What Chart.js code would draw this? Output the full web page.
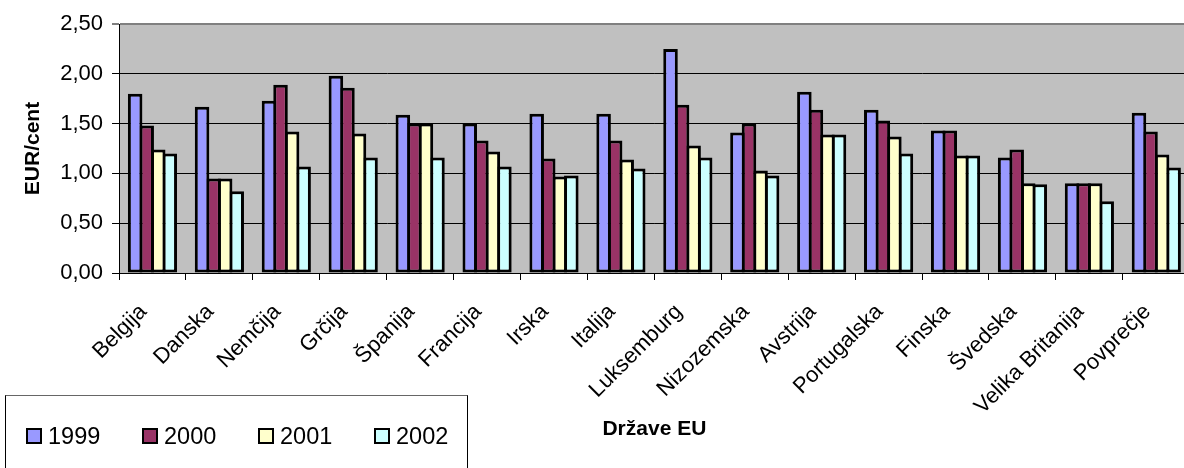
<!DOCTYPE html>
<html>
<head>
<meta charset="utf-8">
<script src="https://cdn.jsdelivr.net/npm/chart.js@4/dist/chart.umd.min.js"></script>
<style>
  html, body { margin: 0; padding: 0; background: #fff; overflow: hidden; }
  #wrap { position: relative; width: 1194px; height: 468px; }
  #legend {
    position: absolute; left: 5px; top: 395px; width: 463px; height: 90px;
    border-left: 1px solid #000; border-right: 1px solid #000; border-top: 1px solid #666;
    font-family: "Liberation Sans", Arial, sans-serif; font-size: 23.5px; color: #000;
    box-sizing: border-box;
  }
  .item { position: absolute; top: 27px; height: 26px; line-height: 26px; white-space: nowrap; }
  .sw { display: inline-block; width: 16px; height: 16px; box-sizing: border-box;
        border: 2px solid #000; vertical-align: middle; margin-right: 6px; position: relative; top: -2px; }
</style>
</head>
<body>
<div id="wrap">
  <canvas id="c"></canvas>
  <div id="legend"></div>
</div>
<script>
// Cena v EUR/cent po državah EU, 1999–2002
const categories = ['Belgija', 'Danska', 'Nemčija', 'Grčija', 'Španija', 'Francija', 'Irska', 'Italija',
  'Luksemburg', 'Nizozemska', 'Avstrija', 'Portugalska', 'Finska', 'Švedska', 'Velika Britanija', 'Povprečje'];
const years = ['1999', '2000', '2001', '2002'];
const v1999 = [1.80, 1.67, 1.73, 1.98, 1.59, 1.50, 1.60, 1.60, 2.25, 1.41, 1.82, 1.64, 1.43, 1.16, 0.90, 1.61];
const v2000 = [1.48, 0.95, 1.89, 1.86, 1.50, 1.33, 1.15, 1.33, 1.69, 1.50, 1.64, 1.53, 1.43, 1.24, 0.90, 1.42];
const v2001 = [1.24, 0.95, 1.42, 1.40, 1.50, 1.22, 0.97, 1.14, 1.28, 1.03, 1.39, 1.37, 1.18, 0.90, 0.90, 1.19];
const v2002 = [1.20, 0.82, 1.07, 1.16, 1.16, 1.07, 0.98, 1.05, 1.16, 0.98, 1.39, 1.20, 1.18, 0.89, 0.72, 1.06];
const yTicks = [0, 0.5, 1.0, 1.5, 2.0, 2.5];

const colors = ['#9999FF', '#993366', '#FFFFCC', '#CCFFFF'];
const series = [v1999, v2000, v2001, v2002];
const FONT = '"Liberation Sans", Arial, sans-serif';

const plotBackground = {
  id: 'plotBackground',
  beforeDraw(chart) {
    const { ctx, chartArea: a } = chart;
    ctx.save();
    ctx.fillStyle = '#C0C0C0';
    ctx.fillRect(a.left, a.top, a.right - a.left, a.bottom - a.top);
    ctx.restore();
  }
};

const chart = new Chart(document.getElementById('c'), {
  type: 'bar',
  data: {
    labels: categories,
    datasets: series.map((d, i) => ({
      label: years[i],
      data: d,
      backgroundColor: colors[i],
      borderColor: '#000',
      borderWidth: 3,
      borderSkipped: false,
      inflateAmount: 0,
      categoryPercentage: 0.69,
      barPercentage: 1.26
    }))
  },
  options: {
    responsive: true,
    maintainAspectRatio: false,
    animation: false,
    devicePixelRatio: 1,
    layout: { padding: { top: 24, right: 1, bottom: 0, left: 0 } },
    plugins: { legend: { display: false }, tooltip: { enabled: false } },
    scales: {
      x: {
        type: 'category',
        offset: true,
        grid: { offset: true, drawOnChartArea: false, drawTicks: true, tickLength: 7, color: '#000' },
        border: { color: '#000', width: 1 },
        ticks: {
          autoSkip: false, maxRotation: 45, minRotation: 45, padding: 19, labelOffset: -9,
          color: '#000', font: { family: FONT, size: 22 }
        },
        title: {
          display: true, text: 'Države EU', color: '#000',
          font: { family: FONT, size: 21, weight: 'bold' },
          padding: { top: 0, bottom: 26 }
        },
        afterFit(s) { s.height = 195; }
      },
      y: {
        min: 0, max: 2.5,
        afterBuildTicks(s) { s.ticks = yTicks.map(v => ({ value: v })); },
        grid: {
          color: c => (c.tick && c.tick.value === 2.5) ? '#808080' : '#000',
          lineWidth: c => (c.tick && c.tick.value === 2.5) ? 2 : 1,
          tickColor: '#000', tickWidth: 1, tickLength: 7, drawTicks: true
        },
        border: { color: '#000', width: 1 },
        ticks: {
          padding: 9, color: '#000', font: { family: FONT, size: 22 },
          callback: v => Number(v).toFixed(2).replace('.', ',')
        },
        title: {
          display: true, text: 'EUR/cent', color: '#000',
          font: { family: FONT, size: 21, weight: 'bold' },
          padding: { top: 21 }
        },
        afterFit(s) { s.width = 119; }
      }
    }
  },
  plugins: [plotBackground]
});

// Legend built from the chart's datasets
const legend = document.getElementById('legend');
chart.data.datasets.forEach((ds, i) => {
  const item = document.createElement('div');
  item.className = 'item';
  item.style.left = (20 + i * 116) + 'px';
  const sw = document.createElement('span');
  sw.className = 'sw';
  sw.style.background = ds.backgroundColor;
  item.appendChild(sw);
  item.appendChild(document.createTextNode(ds.label));
  legend.appendChild(item);
});
</script>
</body>
</html>
